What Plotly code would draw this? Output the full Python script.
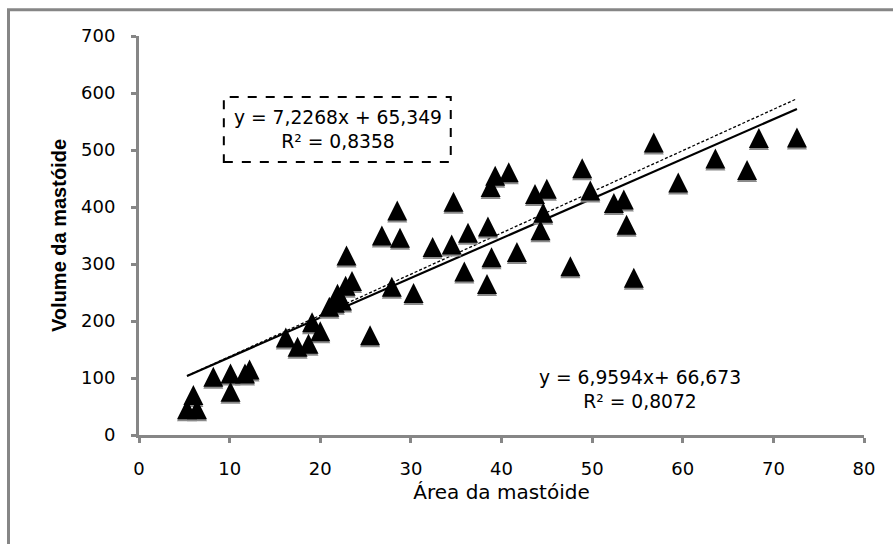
import plotly.graph_objects as go

# ---- data ----
area = [5.3, 6.4, 6.0, 8.2, 10.1, 10.1, 11.7, 12.2, 16.2, 17.5, 18.7, 19.1, 20.0,
        21.0, 21.6, 21.9, 22.4, 22.9, 22.8, 23.5, 25.5, 26.8, 27.9, 28.5, 28.8,
        30.3, 32.4, 34.5, 34.7, 35.9, 36.3, 38.4, 38.5, 38.9, 38.8, 39.3, 40.8,
        41.7, 43.7, 44.3, 44.6, 45.0, 47.6, 48.9, 49.8, 52.4, 53.5, 53.8, 54.6,
        56.8, 59.5, 63.6, 67.1, 68.4, 72.6]
volume = [45, 45, 70, 102, 108, 76, 108, 115, 171, 155, 160, 198, 182,
          225, 232, 248, 236, 315, 262, 270, 175, 350, 260, 394, 346,
          249, 330, 334, 409, 287, 355, 265, 366, 312, 435, 455, 461,
          321, 423, 359, 390, 432, 296, 468, 429, 407, 413, 369, 276,
          513, 443, 485, 465, 521, 522]

# trendline coefficients (slope, intercept) as printed on the chart
fit_solid = (6.9594, 66.673)
fit_dashed = (7.2268, 65.349)
eq_boxed = "y = 7,2268x + 65,349<br>R² = 0,8358"
eq_plain = "y = 6,9594x+ 66,673<br>R² = 0,8072"

x_ticks = [0, 10, 20, 30, 40, 50, 60, 70, 80]
y_ticks = [0, 100, 200, 300, 400, 500, 600, 700]
x_title = "Área da mastóide"
y_title = "Volume da mastóide"

# ---- layout geometry ----
W, H = 893, 544
ML, MR, MT, MB = 139, 29, 36, 109
plot_h = H - MT - MB
y_max = 700
u_per_px = y_max / plot_h
msize = 20
lift = msize / 2 * u_per_px          # arrow-up marker hangs from its tip: centre it
shadow = 2 * u_per_px
AX = "#868686"
FONT = "DejaVu Sans"

xmin, xmax = min(area), max(area)
fx = [xmin, xmax]

fig = go.Figure()
fig.add_trace(go.Scatter(x=fx, y=[fit_dashed[0] * v + fit_dashed[1] for v in fx],
                         mode="lines",
                         line=dict(color="black", width=1.3, dash="3px,2px"),
                         showlegend=False))
fig.add_trace(go.Scatter(x=fx, y=[fit_solid[0] * v + fit_solid[1] for v in fx],
                         mode="lines",
                         line=dict(color="black", width=2.2),
                         showlegend=False))
fig.add_trace(go.Scatter(x=area, y=volume, mode="markers", xaxis="x", yaxis="y2",
                         marker=dict(symbol="arrow-up", size=msize, color="#8a8a8a"),
                         hoverinfo="skip", showlegend=False))
fig.add_trace(go.Scatter(x=area, y=volume, mode="markers", xaxis="x", yaxis="y3",
                         marker=dict(symbol="arrow-up", size=msize, color="black"),
                         showlegend=False))

ov = dict(overlaying="y", anchor="x", visible=False, fixedrange=True)
fig.update_layout(
    width=W, height=H,
    margin=dict(l=ML, r=MR, t=MT, b=MB, autoexpand=False),
    paper_bgcolor="white", plot_bgcolor="white",
    font=dict(family=FONT, size=18, color="black"),
    showlegend=False,
    xaxis=dict(range=[0, 80], tickvals=x_ticks, showgrid=False, zeroline=False,
               showline=True, linecolor=AX, linewidth=3, ticks="outside",
               ticklen=5, tickwidth=3, tickcolor=AX, ticklabelstandoff=10,
               tickfont=dict(family=FONT, size=18, color="black"),
               title=dict(text=x_title, standoff=8,
                          font=dict(family=FONT, size=20, color="black"))),
    yaxis=dict(range=[0, y_max], tickvals=y_ticks, showgrid=False, zeroline=False,
               showline=True, linecolor=AX, linewidth=3, ticks="outside",
               ticklen=5, tickwidth=3, tickcolor=AX, ticklabelstandoff=12,
               tickfont=dict(family=FONT, size=18, color="black"),
               title=dict(text="<b>" + y_title + "</b>", standoff=10,
                          font=dict(family="Liberation Sans", size=20, color="black"))),
    yaxis2=dict(range=[-lift + shadow, y_max - lift + shadow], **ov),
    yaxis3=dict(range=[-lift, y_max - lift], **ov),
    shapes=[
        dict(type="rect", xref="paper", yref="paper", x0=-0.18, x1=1.3,
             y0=-0.6, y1=1.066, line=dict(color=AX, width=3)),
        dict(type="rect", xref="paper", yref="paper", x0=0.117, x1=0.430,
             y0=0.684, y1=0.847, line=dict(color="black", width=2, dash="dash")),
    ],
    annotations=[
        dict(text=eq_boxed, xref="paper", yref="paper", x=0.274, y=0.766,
             showarrow=False, xanchor="center", yanchor="middle", align="center",
             font=dict(family=FONT, size=18.7, color="black")),
        dict(text=eq_plain, xref="paper", yref="paper", x=0.691, y=0.115,
             showarrow=False, xanchor="center", yanchor="middle", align="center",
             font=dict(family=FONT, size=18.7, color="black")),
    ],
)

fig.write_html("out.html", config={"displayModeBar": False},
               post_script="document.body.style.margin='0';"
                           "document.body.style.overflow='hidden';")
